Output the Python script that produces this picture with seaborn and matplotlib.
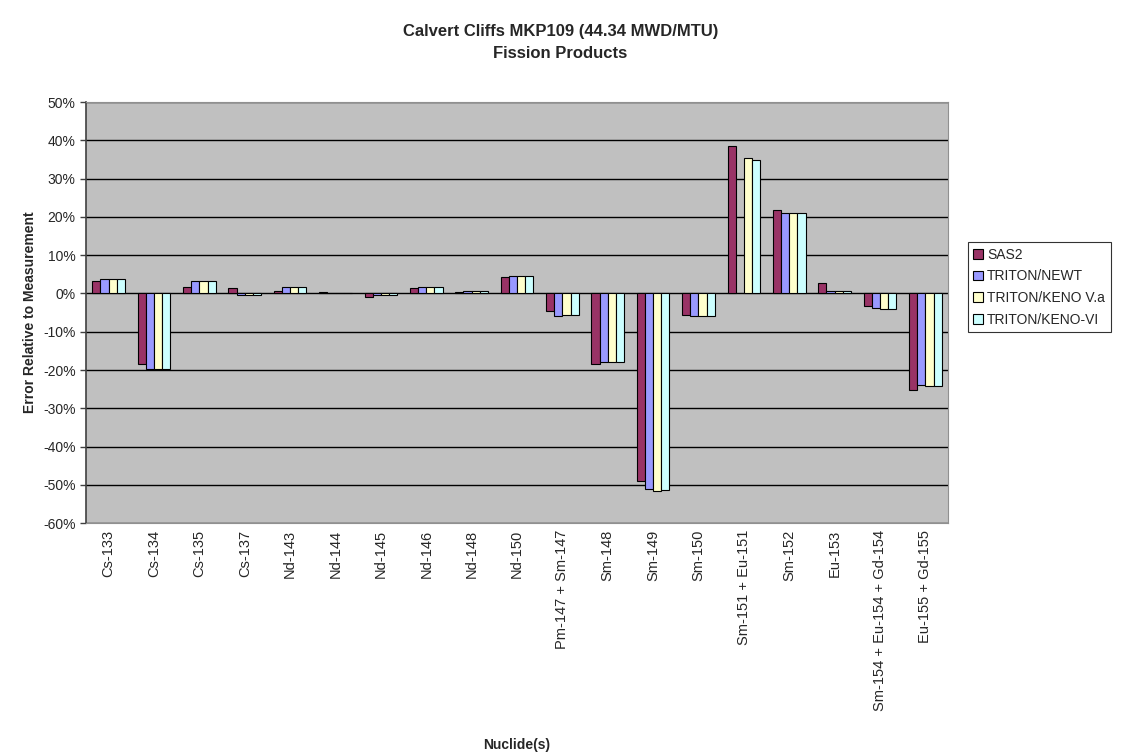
# Calvert Cliffs MKP109 fission products - error relative to measurement
import numpy as np
import pandas as pd
import matplotlib
matplotlib.use('Agg')
import matplotlib.pyplot as plt
import seaborn as sns

# data (percent)
nuclides = ['Cs-133', 'Cs-134', 'Cs-135', 'Cs-137', 'Nd-143', 'Nd-144', 'Nd-145',
            'Nd-146', 'Nd-148', 'Nd-150', 'Pm-147 + Sm-147', 'Sm-148', 'Sm-149',
            'Sm-150', 'Sm-151 + Eu-151', 'Sm-152', 'Eu-153',
            'Sm-154 + Eu-154 + Gd-154', 'Eu-155 + Gd-155']
sas2 = [3.3, -18.5, 1.7, 1.3, 0.7, 0.35, -0.8, 1.3, 0.35, 4.3,
        -4.6, -18.3, -49.1, -5.7, 38.6, 21.9, 2.7, -3.4, -25.2]
newt = [3.7, -19.7, 3.3, -0.35, 1.7, 0.0, -0.35, 1.7, 0.7, 4.6,
        -6.0, -17.9, -51.1, -6.0, np.nan, 21.0, 0.7, -3.8, -23.8]
keno_va = [3.7, -19.7, 3.3, -0.35, 1.7, 0.0, -0.35, 1.7, 0.7, 4.6,
           -5.7, -17.9, -51.7, -6.0, 35.3, 21.0, 0.7, -4.0, -24.2]
keno_vi = [3.7, -19.7, 3.3, -0.35, 1.7, 0.0, -0.35, 1.7, 0.7, 4.6,
           -5.7, -17.9, -51.4, -6.0, 34.9, 21.0, 0.7, -4.0, -24.2]
codes = ['SAS2', 'TRITON/NEWT', 'TRITON/KENO V.a', 'TRITON/KENO-VI']
colors = ['#993366', '#9999FF', '#FFFFCC', '#CCFFFF']

df = pd.DataFrame({
    'Nuclide': nuclides * 4,
    'Code': [c for c in codes for _ in nuclides],
    'Error': sas2 + newt + keno_va + keno_vi,
})

sns.set_style('white')
plt.rcParams['font.family'] = ['Liberation Sans', 'DejaVu Sans']
narrow = ['Liberation Sans Narrow', 'Liberation Sans']

fig = plt.figure(figsize=(11.21, 7.56), dpi=100)
ax = fig.add_axes([0.0767, 0.308, 0.769, 0.557])

sns.barplot(data=df, x='Nuclide', y='Error', hue='Code', hue_order=codes,
            palette=colors, saturation=1, width=0.72, gap=0,
            edgecolor='black', linewidth=0.8, errorbar=None, ax=ax)

ax.set_facecolor('#C0C0C0')
ax.set_ylim(-60, 50)
ax.set_xlim(-0.5, len(nuclides) - 0.5)
ax.set_yticks(range(-60, 51, 10))
ax.set_yticklabels([f'{v}%' for v in range(-60, 51, 10)], fontsize=10)
ax.yaxis.grid(True, color='black', linewidth=1)
ax.set_axisbelow(True)
ax.tick_params(axis='y', length=4, width=1, color='#404040', left=True)
ax.tick_params(axis='x', length=0, pad=5)
plt.setp(ax.get_xticklabels(), rotation=90, fontsize=10.5)
for side in ['top', 'right', 'bottom']:
    ax.spines[side].set_color('#909090')
ax.spines['left'].set_color('#404040')
ax.spines['left'].set_linewidth(1.2)

ax.set_ylabel('Error Relative to Measurement', fontsize=10, fontweight='bold',
              family=narrow)
ax.set_xlabel('')
fig.text(0.461, 1 - 745 / 756, 'Nuclide(s)', ha='center', va='center',
         fontsize=10, fontweight='bold', family=narrow)

fig.text(0.5, 0.944, 'Calvert Cliffs MKP109 (44.34 MWD/MTU)\nFission Products',
         ha='center', va='center', fontsize=12, fontweight='bold', linespacing=1.6,
         family=narrow)

handles, labels = ax.get_legend_handles_labels()
ax.get_legend().remove()
leg = fig.legend(handles, labels, loc='upper left', bbox_to_anchor=(0.857, 0.689),
                 fontsize=10, frameon=True, fancybox=False, edgecolor='black',
                 handlelength=0.7, handleheight=0.7, handletextpad=0.3,
                 labelspacing=0.55, borderpad=0.4)
leg.get_frame().set_linewidth(0.8)

fig.savefig('out.png', dpi=100)
